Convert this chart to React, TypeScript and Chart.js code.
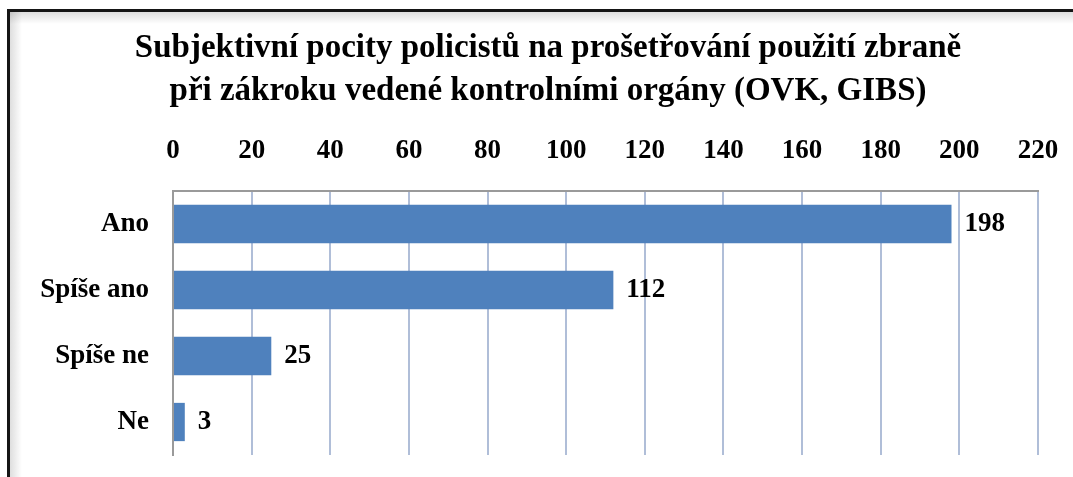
import React, { useEffect, useRef } from 'react';
import { Chart, registerables } from 'chart.js';

Chart.register(...registerables);

const categories = ['Ano', 'Spíše ano', 'Spíše ne', 'Ne'];
const values = [198, 112, 25, 3];
const titleLines = [
  'Subjektivní pocity policistů na prošetřování použití zbraně',
  'při zákroku vedené kontrolními orgány (OVK, GIBS)',
];
const axisMin = 0;
const axisMax = 220;
const axisStep = 20;

const FONT = "'Liberation Serif', 'Times New Roman', serif";
const BAR_COLOR = '#4f81bd';

const framePlugin = {
  id: 'frame',
  beforeDraw(chart: any) {
    const { ctx, width, height } = chart;
    ctx.save();
    ctx.fillStyle = '#ffffff';
    ctx.fillRect(0, 0, width, height);
    const gl = ctx.createLinearGradient(10, 0, 22, 0);
    gl.addColorStop(0, 'rgba(0,0,0,0.13)');
    gl.addColorStop(1, 'rgba(0,0,0,0)');
    ctx.fillStyle = gl;
    ctx.fillRect(10, 12, 12, height - 12);
    const gt = ctx.createLinearGradient(0, 12, 0, 24);
    gt.addColorStop(0, 'rgba(0,0,0,0.13)');
    gt.addColorStop(1, 'rgba(0,0,0,0)');
    ctx.fillStyle = gt;
    ctx.fillRect(10, 12, width - 10, 12);
    ctx.fillStyle = '#151515';
    ctx.fillRect(7, 9, 3, height - 9);
    ctx.fillRect(7, 9, width - 7, 3);
    ctx.restore();
  },
};

const valueLabelPlugin = {
  id: 'valueLabels',
  afterDatasetsDraw(chart: any) {
    const { ctx } = chart;
    const meta = chart.getDatasetMeta(0);
    ctx.save();
    ctx.font = `bold 27px ${FONT}`;
    ctx.fillStyle = '#000';
    ctx.textAlign = 'left';
    ctx.textBaseline = 'middle';
    meta.data.forEach((bar: any, i: number) => {
      ctx.fillText(String(values[i]), bar.x + 13, bar.y);
    });
    ctx.restore();
  },
};

export default function App() {
  const ref = useRef<HTMLCanvasElement>(null);
  useEffect(() => {
    if (!ref.current) return;
    const chart = new Chart(ref.current, {
      type: 'bar',
      data: {
        labels: categories,
        datasets: [
          {
            data: values,
            backgroundColor: BAR_COLOR,
            borderWidth: 0,
            barPercentage: 0.58,
            categoryPercentage: 1,
          },
        ],
      },
      options: {
        indexAxis: 'y',
        responsive: false,
        animation: false,
        devicePixelRatio: 1,
        layout: { padding: { left: 23, right: 0, top: 0, bottom: 22 } },
        plugins: {
          legend: { display: false },
          tooltip: { enabled: false },
          title: {
            display: true,
            text: titleLines,
            color: '#000',
            font: { family: FONT, size: 33, weight: 'bold', lineHeight: 1.3 },
            padding: { top: 27, bottom: 0 },
          },
        },
        scales: {
          x: {
            position: 'top',
            min: axisMin,
            max: axisMax,
            afterFit: (s: any) => {
              s.paddingRight = 35;
              s.height = 191 - 112.8;
            },
            ticks: {
              stepSize: axisStep,
              color: '#000',
              padding: 24,
              font: { family: FONT, size: 27, weight: 'bold', lineHeight: 1.2 },
            },
            grid: {
              color: '#b0bed8',
              lineWidth: 2,
              drawTicks: false,
            },
            border: { display: true, color: '#9a9a9a', width: 2 },
          },
          y: {
            afterFit: (s: any) => {
              s.width = 150;
              s.paddingTop = 0;
              s.paddingBottom = 0;
            },
            ticks: {
              color: '#000',
              padding: 24,
              font: { family: FONT, size: 27, weight: 'bold' },
            },
            grid: { display: false, drawTicks: false },
            border: { display: true, color: '#9a9a9a', width: 2 },
          },
        },
      },
      plugins: [framePlugin, valueLabelPlugin],
    });
    return () => chart.destroy();
  }, []);
  return (
    <div style={{ position: 'absolute', left: 0, top: 0, width: 1073, height: 477, overflow: 'hidden' }}>
      <canvas ref={ref} width={1073} height={477} style={{ display: 'block' }} />
    </div>
  );
}
